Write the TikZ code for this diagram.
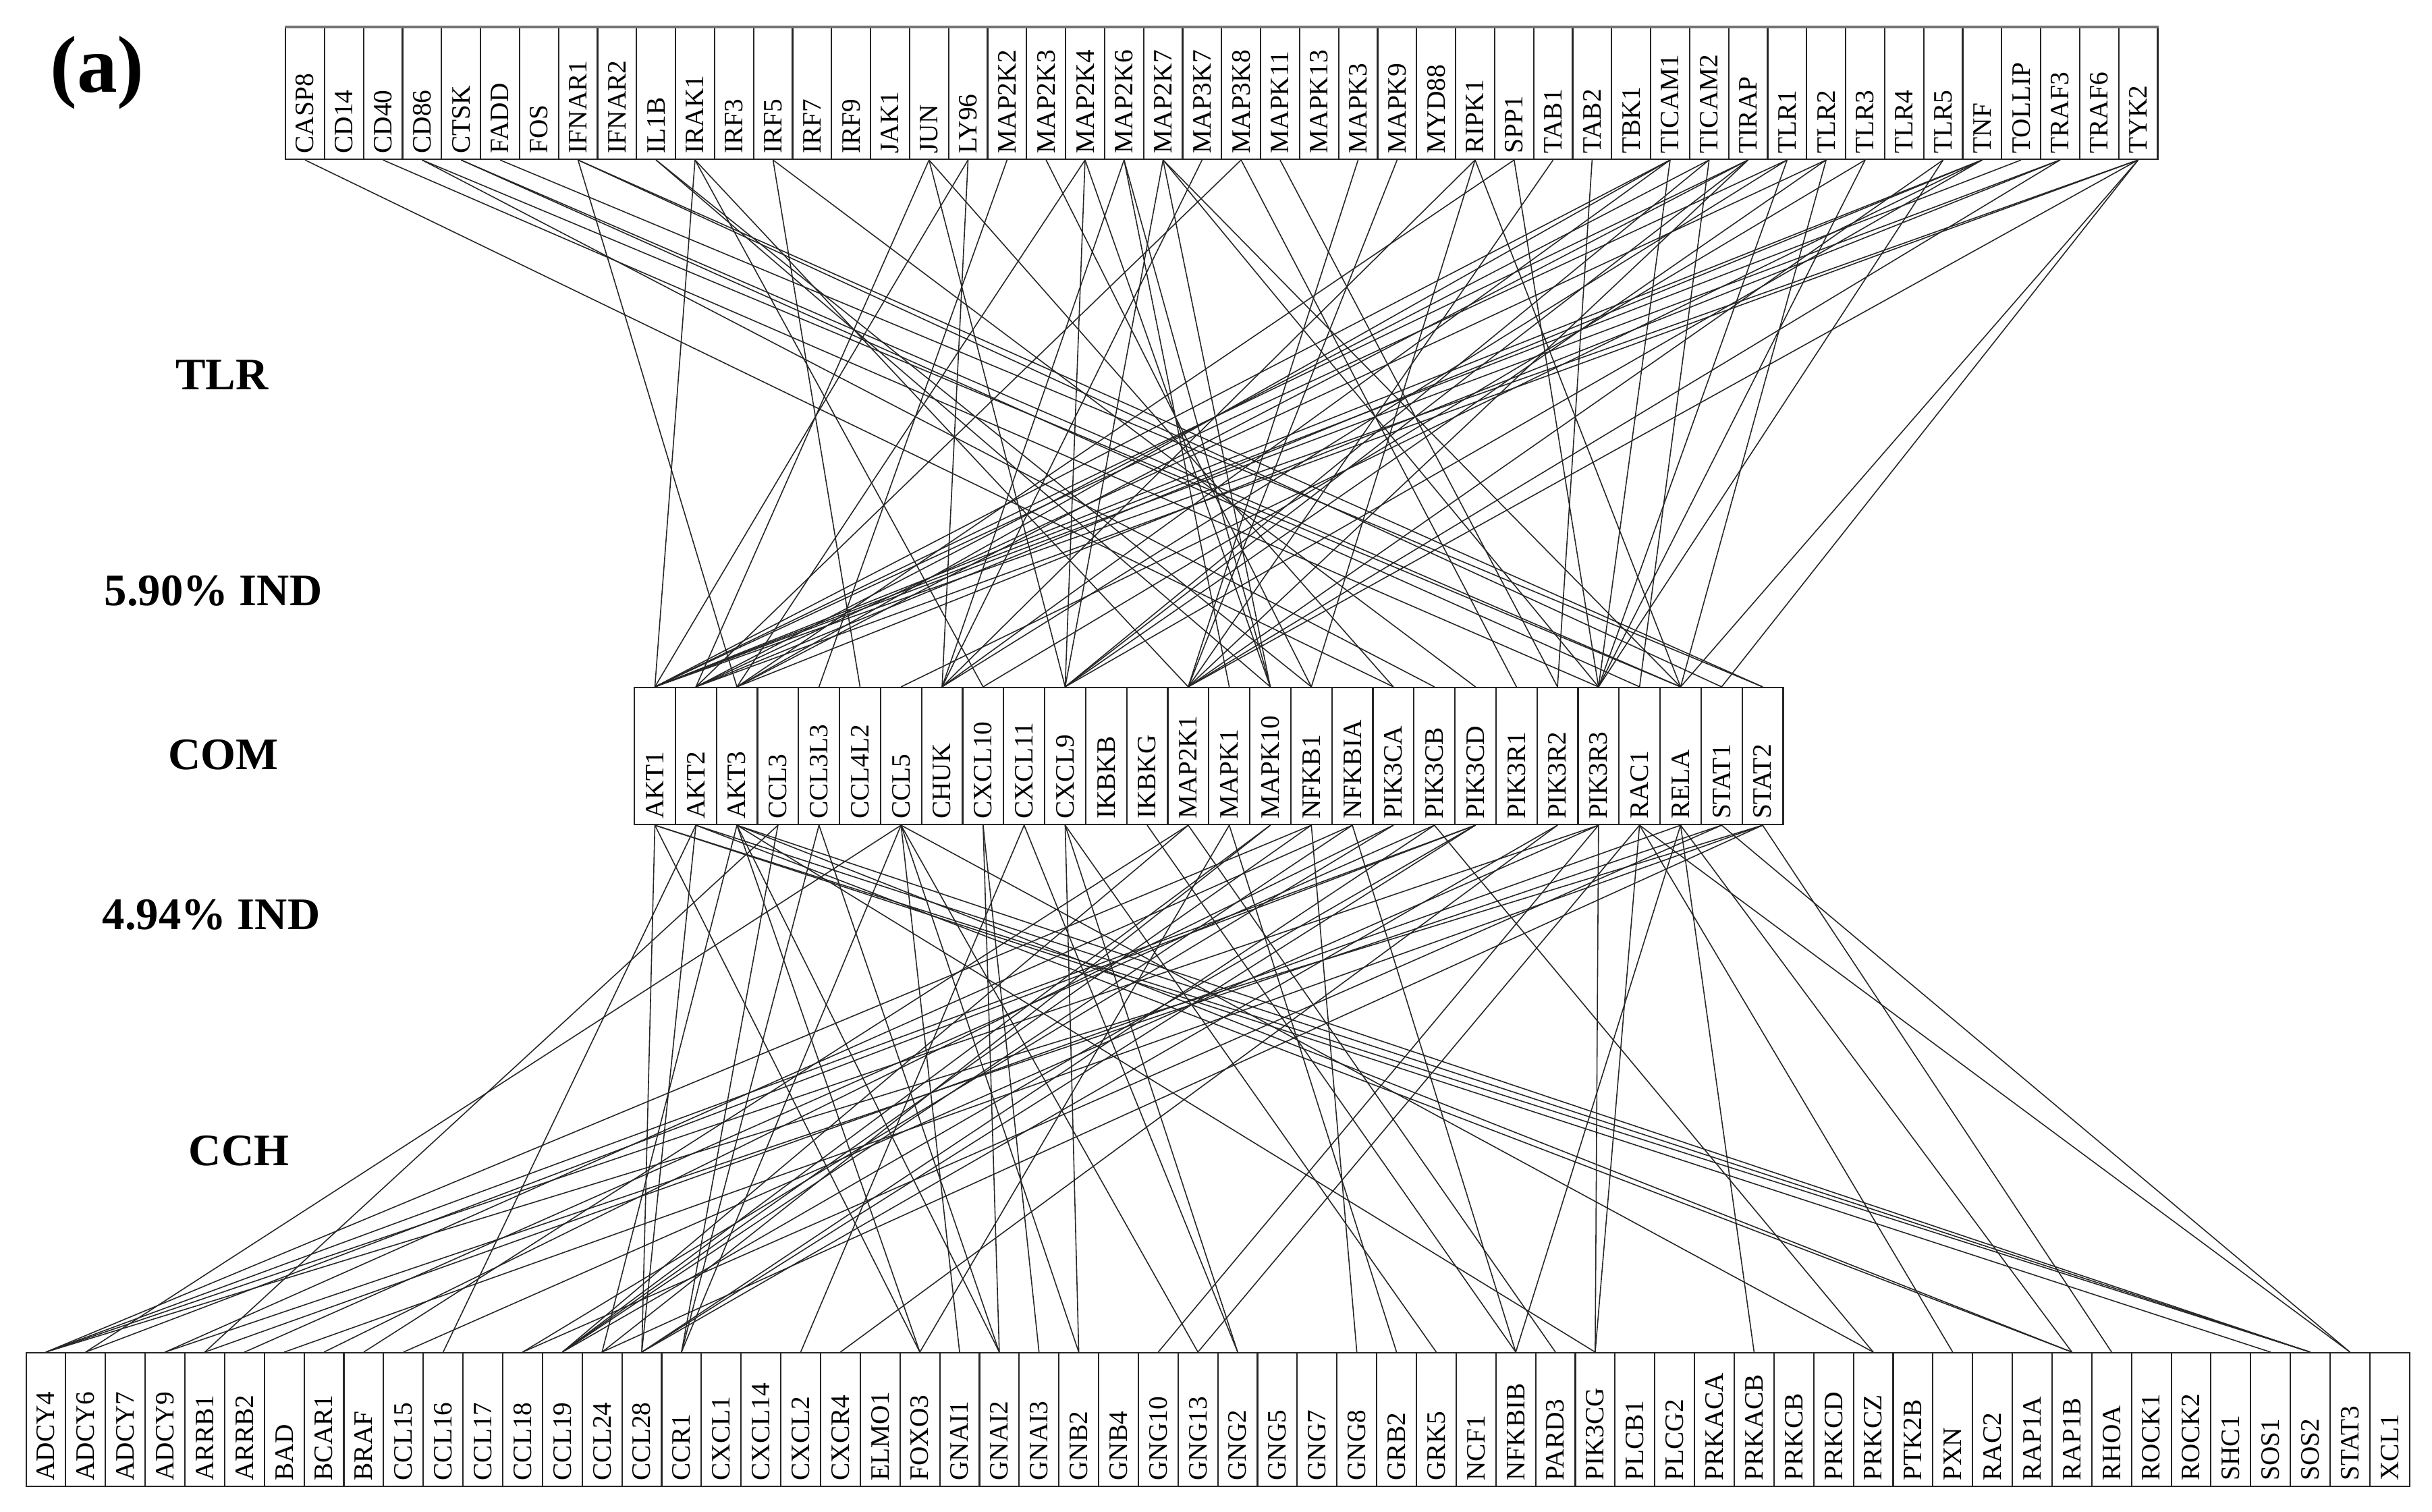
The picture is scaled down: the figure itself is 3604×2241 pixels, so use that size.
\documentclass[tikz,border=0pt]{standalone}
\usepackage{fontspec}
\setmainfont{Liberation Serif}
\begin{document}
\begin{tikzpicture}[x=0.1mm, y=-0.1mm,
    gbox/.style={draw=black!85, line width=0.6pt, inner sep=0pt},
    glbl/.style={rotate=90, anchor=west, inner sep=0pt, font=\fontsize{11.2}{12}\selectfont},
    link/.style={black!85, line width=0.45pt},
    ttl/.style={font=\fontsize{19}{22}\selectfont\bfseries},
]
\useasboundingbox (0,0) rectangle (3604,2241);

% Row labels
\node[font=\fontsize{34}{38}\selectfont\bfseries] (panel) at (144,108) {(a)};
\node[ttl] (tlr) at (329,556) {TLR};
\node[ttl] (indtop) at (316,876) {5.90\% IND};
\node[ttl] (com) at (331,1119) {COM};
\node[ttl] (indbot) at (313,1356) {4.94\% IND};
\node[ttl] (cch) at (354,1706) {CCH};

% TLR genes (top row)
\foreach \g [count=\i from 0] in {CASP8,CD14,CD40,CD86,CTSK,FADD,FOS,IFNAR1,IFNAR2,IL1B,IRAK1,IRF3,IRF5,IRF7,IRF9,JAK1,JUN,LY96,MAP2K2,MAP2K3,MAP2K4,MAP2K6,MAP2K7,MAP3K7,MAP3K8,MAPK11,MAPK13,MAPK3,MAPK9,MYD88,RIPK1,SPP1,TAB1,TAB2,TBK1,TICAM1,TICAM2,TIRAP,TLR1,TLR2,TLR3,TLR4,TLR5,TNF,TOLLIP,TRAF3,TRAF6,TYK2} {
  \node[gbox, minimum width=5.78mm, minimum height=19.5mm, anchor=north west] (t\g) at ({422+57.8*\i},40) {};
  \node[glbl] at ([yshift=0.9mm]t\g.south) {\g};
}
\draw[black!55, line width=1.2pt] (tCASP8.north west) -- (tTYK2.north east);

% common genes (middle row)
\foreach \g [count=\i from 0] in {AKT1,AKT2,AKT3,CCL3,CCL3L3,CCL4L2,CCL5,CHUK,CXCL10,CXCL11,CXCL9,IKBKB,IKBKG,MAP2K1,MAPK1,MAPK10,NFKB1,NFKBIA,PIK3CA,PIK3CB,PIK3CD,PIK3R1,PIK3R2,PIK3R3,RAC1,RELA,STAT1,STAT2} {
  \node[gbox, minimum width=6.08mm, minimum height=20.3mm, anchor=north west] (m\g) at ({939+60.8*\i},1018) {};
  \node[glbl] at ([yshift=0.85mm]m\g.south) {\g};
}

% CCH genes (bottom row)
\foreach \g [count=\i from 0] in {ADCY4,ADCY6,ADCY7,ADCY9,ARRB1,ARRB2,BAD,BCAR1,BRAF,CCL15,CCL16,CCL17,CCL18,CCL19,CCL24,CCL28,CCR1,CXCL1,CXCL14,CXCL2,CXCR4,ELMO1,FOXO3,GNAI1,GNAI2,GNAI3,GNB2,GNB4,GNG10,GNG13,GNG2,GNG5,GNG7,GNG8,GRB2,GRK5,NCF1,NFKBIB,PARD3,PIK3CG,PLCB1,PLCG2,PRKACA,PRKACB,PRKCB,PRKCD,PRKCZ,PTK2B,PXN,RAC2,RAP1A,RAP1B,RHOA,ROCK1,ROCK2,SHC1,SOS1,SOS2,STAT3,XCL1} {
  \node[gbox, minimum width=5.887mm, minimum height=19.8mm, anchor=north west] (b\g) at ({37.5+58.87*\i},2004) {};
  \node[glbl] at ([yshift=0.9mm]b\g.south) {\g};
}

% TLR -- COM links
\foreach \a/\b in {CASP8/PIK3CA,CD40/PIK3R3,CD86/PIK3CB,CD86/RELA,CTSK/RAC1,CTSK/RELA,FADD/STAT2,
    IFNAR1/AKT3,IFNAR1/STAT1,IFNAR1/STAT2,IL1B/MAPK10,IL1B/NFKB1,IRAK1/AKT1,IRAK1/CXCL10,IRAK1/MAP2K1,
    IRF5/CCL4L2,IRF5/PIK3CD,JUN/AKT2,JUN/CXCL9,JUN/PIK3CA,LY96/AKT1,LY96/CHUK,MAP2K2/CCL3L3,MAP2K3/NFKB1,
    MAP2K4/AKT3,MAP2K4/CXCL9,MAP2K4/MAPK10,MAP2K6/CHUK,MAP2K6/MAPK1,MAP2K6/MAPK10,
    MAP2K7/CXCL9,MAP2K7/MAPK10,MAP2K7/PIK3R3,MAP2K7/RELA,MAP3K7/CHUK,MAP3K8/AKT2,MAP3K8/PIK3R1,
    MAPK11/PIK3R2,MAPK3/MAP2K1,MAPK9/MAP2K1,RIPK1/CHUK,RIPK1/NFKB1,RIPK1/RELA,SPP1/AKT3,SPP1/PIK3R3,
    TAB1/MAP2K1,TAB2/PIK3R2,TICAM1/AKT1,TICAM1/AKT3,TICAM1/CHUK,TICAM1/PIK3R3,
    TICAM2/AKT2,TICAM2/CXCL9,TICAM2/RAC1,TIRAP/AKT1,TIRAP/AKT3,TIRAP/CXCL9,TIRAP/MAP2K1,
    TLR1/AKT1,TLR1/CHUK,TLR1/PIK3R3,TLR2/AKT2,TLR2/CXCL9,TLR2/RELA,TLR3/CXCL10,TLR3/PIK3R3,
    TLR5/MAP2K1,TLR5/PIK3R3,TNF/AKT1,TNF/AKT2,TNF/CCL5,TNF/CXCL9,TOLLIP/AKT1,
    TRAF3/AKT1,TRAF3/AKT3,TRAF3/MAP2K1,TYK2/AKT1,TYK2/AKT2,TYK2/MAP2K1,TYK2/RELA,TYK2/STAT1}
  \draw[link] (t\a.south) -- (m\b.north);

% COM -- CCH links
\foreach \a/\b in {AKT1/CCL28,AKT1/FOXO3,AKT1/SOS1,AKT1/SOS2,AKT2/CCL16,AKT2/CCL28,AKT2/SOS2,AKT2/RAP1B,
    AKT3/CCL24,AKT3/FOXO3,AKT3/GNAI2,AKT3/SOS2,AKT3/RAP1B,AKT3/PIK3CG,CCL3/ARRB1,CCL3/CCR1,
    CCL3L3/CCR1,CCL3L3/GNAI2,CCL5/ADCY6,CCL5/CCR1,CCL5/GNAI1,CCL5/GNB2,CCL5/GNG13,CCL5/PRKCZ,
    CXCL10/GNAI2,CXCL10/GNAI3,CXCL11/CXCL2,CXCL11/GNG2,CXCL9/GNB2,CXCL9/GNG2,CXCL9/GRK5,
    IKBKG/NFKBIB,MAP2K1/BRAF,MAP2K1/CCL19,MAP2K1/PARD3,MAPK1/FOXO3,MAPK1/GRB2,MAPK10/CCL19,MAPK10/CCL24,
    NFKB1/GNG8,NFKB1/CCL19,NFKB1/ADCY4,NFKBIA/CCL19,NFKBIA/ADCY9,NFKBIA/NFKBIB,PIK3CA/CCL18,PIK3CA/BCAR1,
    PIK3CB/PRKCZ,PIK3CB/CCL28,PIK3CB/ARRB2,PIK3CD/CCL19,PIK3CD/CCL28,PIK3CD/ADCY4,PIK3CD/ADCY6,
    PIK3R2/CCL28,PIK3R2/CXCR4,PIK3R3/ADCY4,PIK3R3/CCL15,PIK3R3/GNG10,PIK3R3/PIK3CG,
    RAC1/PXN,RAC1/PIK3CG,RAC1/GNG13,RAC1/STAT3,RELA/NFKBIB,RELA/PRKACB,RELA/RAP1B,RELA/ARRB1,
    STAT1/ADCY9,STAT1/STAT3,STAT1/CCL18,STAT2/ADCY4,STAT2/BAD,STAT2/RHOA,STAT2/CCL24}
  \draw[link] (m\a.south) -- (b\b.north);
\end{tikzpicture}
\end{document}
